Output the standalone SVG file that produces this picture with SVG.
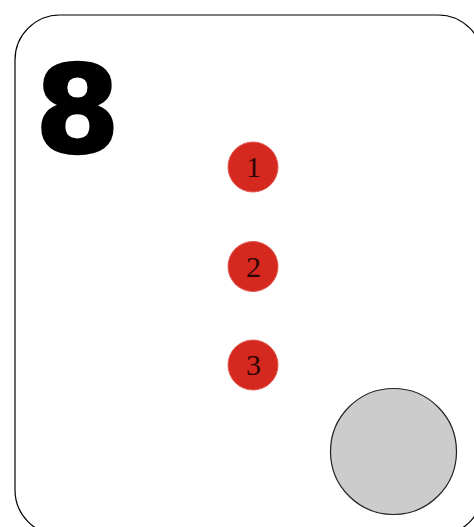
<svg xmlns="http://www.w3.org/2000/svg" width="474" height="527" viewBox="0 0 474 527">
<style>
.card{fill:#fff;stroke:#000;stroke-width:1.2}
.big{font-family:"DejaVu Sans",sans-serif;font-weight:900;font-size:122px;fill:#000}
.red{fill:#d5281f;stroke:#e05a50;stroke-width:1}
.num{font-family:"Liberation Serif","DejaVu Serif",serif;font-size:30px;fill:#2e0505;text-anchor:middle}
.grey{fill:#cccccc;stroke:#222;stroke-width:1.2}
</style>
<rect width="474" height="527" fill="#fff"/>
<g id="card"><rect class="card" x="15" y="15" width="468" height="520" rx="45" ry="45"/></g>
<g id="title"><text class="big" x="35" y="152" stroke="#000" stroke-width="2.5">8</text></g>
<g id="n1"><circle class="red" cx="253" cy="167" r="25"/><text class="num" x="253.5" y="177">1</text></g>
<g id="n2"><circle class="red" cx="253" cy="266.5" r="25"/><text class="num" x="253.5" y="276.5">2</text></g>
<g id="n3"><circle class="red" cx="253" cy="365" r="25"/><text class="num" x="253.5" y="375">3</text></g>
<g id="disc"><circle class="grey" cx="393.5" cy="451.5" r="63"/></g>
<g id="connectors"></g>
</svg>
